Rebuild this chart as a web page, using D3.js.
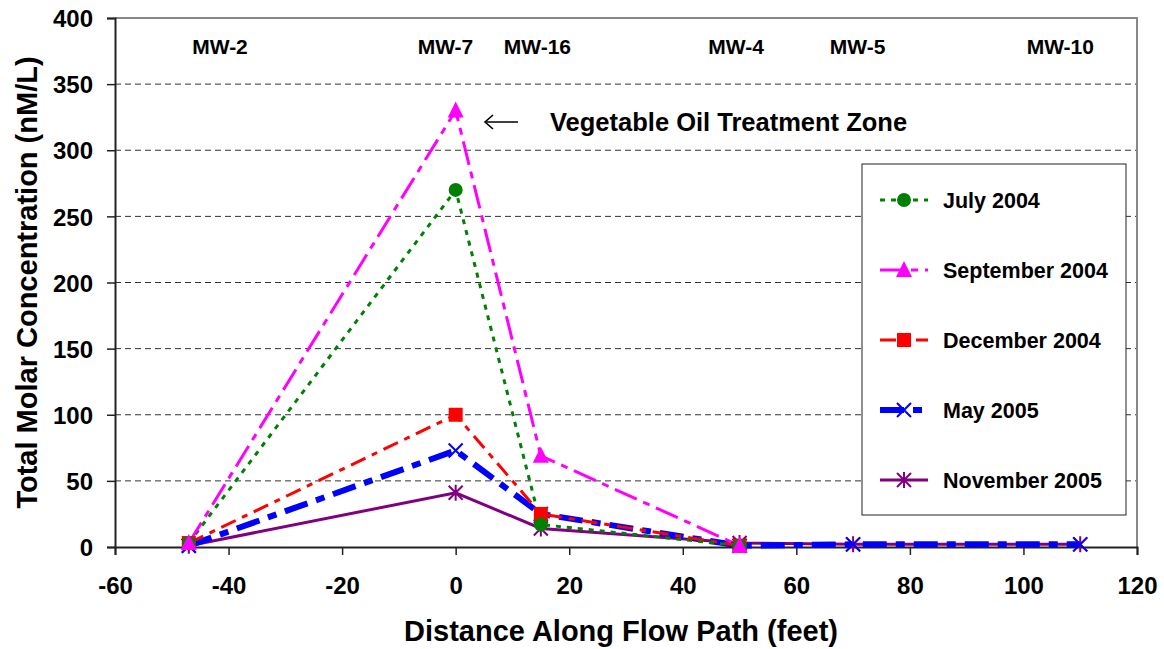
<!DOCTYPE html>
<html lang="en">
  <head>
    <meta charset="utf-8">
    <title>Total Molar Concentration along flow path</title>
    <style type="text/css">
body { margin: 0; background: #fff; }
text { font-family: "Liberation Sans", Arial, sans-serif; font-weight: bold; }
    </style>
  </head>
  <body>
    <div id="chart"></div>

    <script src="https://cdn.jsdelivr.net/npm/d3@7"></script>
    <script>
      // well positions (feet) and measured values
      var distances = [-47, 0, 15, 50, 70, 110];
      var july2004 = [3, 270, 17, 1];
      var sept2004 = [3, 330, 69, 1];
      var dec2004 = [3, 100, 25, 1];
      var may2005 = [1, 73, 25, 1, 2, 2];
      var nov2005 = [1, 41, 14, 3, 2, 2];

      var wellNames = ["MW-2", "MW-7", "MW-16", "MW-4", "MW-5", "MW-10"];
      var wellLabelX = [-41.5, -1.8, 14.4, 49.4, 70.8, 106.5];

      var xTicks = [-60, -40, -20, 0, 20, 40, 60, 80, 100, 120];
      var yTicks = [0, 50, 100, 150, 200, 250, 300, 350, 400];

      var series = [
        {name: "July 2004", values: july2004, color: "#008000", width: 3, dash: "5,6", marker: "circle"},
        {name: "September 2004", values: sept2004, color: "#ff00ff", width: 3, dash: "24,7,7,7", marker: "triangle"},
        {name: "December 2004", values: dec2004, color: "#ff0000", width: 3, dash: "16,7,6,7", marker: "square"},
        {name: "May 2005", values: may2005, color: "#0000ff", width: 6, dash: "24,9,9,9", marker: "x"},
        {name: "November 2005", values: nov2005, color: "#800080", width: 3, dash: null, marker: "star"}
      ];

      var W = 1164, H = 649;
      var margin = {top: 18, right: 27, bottom: 102, left: 115};
      var width = W - margin.left - margin.right,
          height = H - margin.top - margin.bottom;

      var svg = d3.select("#chart").append("svg")
          .attr("width", W)
          .attr("height", H);

      var g = svg.append("g").attr("transform", "translate(" + margin.left + "," + margin.top + ")");

      var x = d3.scaleLinear().domain([-60, 120]).range([0, width]);
      var y = d3.scaleLinear().domain([0, 400]).range([height, 0]);

      // gridlines
      g.append("g")
        .selectAll("line")
        .data(yTicks.filter(function(d) { return d > 0 && d < 400; }))
        .enter().append("line")
          .attr("x1", 0).attr("x2", width)
          .attr("y1", function(d) { return y(d); })
          .attr("y2", function(d) { return y(d); })
          .attr("stroke", "#333")
          .attr("stroke-width", 1)
          .attr("stroke-dasharray", "6,4");

      // top and right border
      g.append("path")
        .attr("d", "M0,0H" + width + "V" + height)
        .attr("fill", "none")
        .attr("stroke", "#888")
        .attr("stroke-width", 2);

      // axes
      var xAxis = g.append("g")
          .attr("transform", "translate(0," + height + ")")
          .call(d3.axisBottom(x).tickValues(xTicks).tickSize(8).tickPadding(22)
            .tickFormat(function(d) { return String(d); }));
      var yAxis = g.append("g")
          .call(d3.axisLeft(y).tickValues(yTicks).tickSize(8).tickPadding(14));
      [xAxis, yAxis].forEach(function(a) {
        a.select(".domain").attr("stroke", "#222").attr("stroke-width", 2);
        a.selectAll(".tick line").attr("stroke", "#222").attr("stroke-width", 1.5);
        a.selectAll(".tick text").attr("font-size", 24).attr("fill", "#000")
          .attr("font-family", "Liberation Sans, Arial, sans-serif").attr("font-weight", "bold");
      });
      yAxis.selectAll(".tick text").attr("dy", "0.36em");

      // lines
      var line = d3.line()
          .x(function(d) { return x(d[0]); })
          .y(function(d) { return y(d[1]); });

      function pts(s) {
        return s.values.map(function(v, i) { return [distances[i], v]; });
      }

      var order = [4, 3, 2, 0, 1];
      order.forEach(function(k) {
        var s = series[k];
        g.append("path")
          .datum(pts(s))
          .attr("d", line)
          .attr("fill", "none")
          .attr("stroke", s.color)
          .attr("stroke-width", s.width)
          .attr("stroke-dasharray", s.dash);
      });

      function drawMarker(sel, type, color, cx, cy) {
        var m = sel.append("g").attr("transform", "translate(" + cx + "," + cy + ")");
        if (type == "circle") {
          m.append("circle").attr("r", 7).attr("fill", color);
        } else if (type == "triangle") {
          m.append("path").attr("d", "M0,-9L8,7L-8,7Z").attr("fill", color);
        } else if (type == "square") {
          m.append("rect").attr("x", -7).attr("y", -7).attr("width", 14).attr("height", 14).attr("fill", color);
        } else if (type == "x") {
          m.append("path").attr("d", "M-7,-7L7,7M-7,7L7,-7").attr("stroke", color).attr("stroke-width", 2);
        } else if (type == "star") {
          m.append("path").attr("d", "M-7,-7L7,7M-7,7L7,-7M0,-8V8")
            .attr("stroke", color).attr("stroke-width", 2);
        }
      }

      order.forEach(function(k) {
        var s = series[k];
        pts(s).forEach(function(p) {
          drawMarker(g, s.marker, s.color, x(p[0]), y(p[1]));
        });
      });

      // well labels
      g.append("g")
        .selectAll("text")
        .data(wellNames)
        .enter().append("text")
          .attr("x", function(d, i) { return x(wellLabelX[i]); })
          .attr("y", 54 - margin.top)
          .attr("text-anchor", "middle")
          .attr("font-size", 21)
          .text(function(d) { return d; });

      // treatment zone annotation
      var ax = svg.append("g").attr("stroke", "#000").attr("stroke-width", 1.6).attr("fill", "none");
      ax.append("path").attr("d", "M518,122H485");
      ax.append("path").attr("d", "M493,115L485,122L493,129");
      svg.append("text")
        .attr("x", 550)
        .attr("y", 131)
        .attr("font-size", 25.5)
        .text("Vegetable Oil Treatment Zone");

      // legend
      var lg = svg.append("g").attr("transform", "translate(862,164)");
      lg.append("rect")
        .attr("width", 264).attr("height", 351)
        .attr("fill", "#fff").attr("stroke", "#222").attr("stroke-width", 1);
      series.forEach(function(s, i) {
        var ly = 36 + i * 70;
        lg.append("line")
          .attr("x1", 18).attr("x2", 66)
          .attr("y1", ly).attr("y2", ly)
          .attr("stroke", s.color)
          .attr("stroke-width", s.width)
          .attr("stroke-dasharray", s.dash);
        drawMarker(lg, s.marker, s.color, 42, ly);
        lg.append("text")
          .attr("x", 81).attr("y", ly + 8)
          .attr("font-size", 21.5)
          .text(s.name);
      });

      // axis titles
      svg.append("text")
        .attr("transform", "translate(37," + (margin.top + height / 2) + ") rotate(-90)")
        .attr("text-anchor", "middle")
        .attr("font-size", 29)
        .text("Total Molar Concentration (nM/L)");
      svg.append("text")
        .attr("x", 621)
        .attr("y", 641)
        .attr("text-anchor", "middle")
        .attr("font-size", 29)
        .text("Distance Along Flow Path (feet)");
    </script>
  </body>
</html>
